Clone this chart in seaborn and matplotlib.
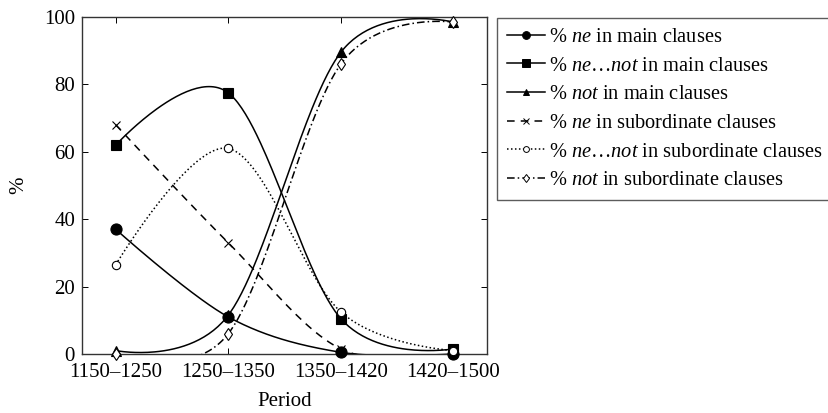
import numpy as np
import pandas as pd
import matplotlib
matplotlib.use("Agg")
import matplotlib.pyplot as plt
import seaborn as sns
from matplotlib.lines import Line2D

# --- Data ---
periods = ["1150\u20131250", "1250\u20131350", "1350\u20131420", "1420\u20131500"]
ne_main = [37, 11, 0.5, 0]
nenot_main = [62, 77.5, 10.5, 1.5]
not_main = [1, 11.5, 89.5, 98.5]
ne_sub = [68, 33, 1.5, 0]
nenot_sub = [26.5, 61, 12.5, 1]
not_sub = [0, 6, 86, 98.5]

labels = [
    r"% $\mathit{ne}$ in main clauses",
    "% $\\mathit{ne\u2026not}$ in main clauses",
    r"% $\mathit{not}$ in main clauses",
    r"% $\mathit{ne}$ in subordinate clauses",
    "% $\\mathit{ne\u2026not}$ in subordinate clauses",
    r"% $\mathit{not}$ in subordinate clauses",
]


def smooth(xs, ys, n=60):
    # tikz-like smooth: cubic bezier pieces, tangents from neighbours
    p = np.column_stack([xs, ys]).astype(float)
    out = []
    for i in range(len(p) - 1):
        p0, p1 = p[i], p[i + 1]
        c1 = p0 if i == 0 else p0 + (p1 - p[i - 1]) / 6
        c2 = p1 if i == len(p) - 2 else p1 - (p[i + 2] - p0) / 6
        t = np.linspace(0, 1, n)[:, None]
        b = ((1 - t) ** 3) * p0 + 3 * ((1 - t) ** 2) * t * c1 + 3 * (1 - t) * t ** 2 * c2 + t ** 3 * p1
        out.append(b if i == 0 else b[1:])
    b = np.vstack(out)
    return b[:, 0], b[:, 1]


plt.rcParams["font.family"] = ["Liberation Serif", "DejaVu Serif"]
plt.rcParams["mathtext.fontset"] = "custom"
plt.rcParams["mathtext.it"] = "Liberation Serif:italic"
plt.rcParams["mathtext.rm"] = "Liberation Serif"
plt.rcParams["font.size"] = 15

fig = plt.figure(figsize=(8.29, 4.13), dpi=100)
ax = fig.add_axes([0.0989, 0.1429, 0.4886, 0.8159])

series = [ne_main, nenot_main, not_main, ne_sub, nenot_sub, not_sub]
styles = [
    dict(ls="-", marker="o", ms=8, mfc="black"),
    dict(ls="-", marker="s", ms=7.5, mfc="black"),
    dict(ls="-", marker="^", ms=7, mfc="black"),
    dict(ls=(0, (5, 4)), marker="x", ms=5.5, mfc="black"),
    dict(ls=(0, (1, 1.6)), marker="o", ms=6, mfc="white"),
    dict(ls=(0, (5, 2, 1, 2)), marker="d", ms=6.5, mfc="white"),
]

xi = np.arange(len(periods))
handles = []
for vals, st, lab in zip(series, styles, labels):
    sx, sy = smooth(xi, vals)
    sns.lineplot(x=sx, y=sy, sort=False, ax=ax, color="black", lw=1.1,
                 linestyle=st["ls"], estimator=None)
    ax.plot(xi, vals, ls="none", marker=st["marker"], ms=st["ms"],
            mfc=st["mfc"], mec="black", mew=0.8, color="black", clip_on=False, zorder=3)
    handles.append(Line2D([], [], color="black", lw=1.1, linestyle=st["ls"],
                          marker=st["marker"], ms=st["ms"] * 0.7, mfc=st["mfc"],
                          mec="black", mew=0.7, label=lab))

ax.set_xlim(-0.3, 3.3)
ax.set_ylim(0, 100)
ax.set_xticks(xi)
ax.set_xticklabels(periods)
ax.set_yticks([0, 20, 40, 60, 80, 100])
ax.tick_params(direction="in", top=True, right=True, length=4.5, width=0.7,
               colors="black", labelsize=15)
ax.tick_params(axis="x", pad=6.5)
ax.tick_params(axis="y", pad=5)
for s in ax.spines.values():
    s.set_color("#333333")
    s.set_linewidth(1.0)
ax.set_xlabel("Period", fontsize=15, labelpad=7)
ax.set_ylabel("%", fontsize=15, labelpad=11)

leg = fig.legend(handles=handles, loc="upper left", bbox_to_anchor=(0.6, 0.956),
                 frameon=True, fancybox=False, edgecolor="#333333", fontsize=14.7,
                 handlelength=1.85, handletextpad=0.2, labelspacing=0.46,
                 borderpad=0.46, borderaxespad=0)
leg.get_frame().set_linewidth(1.0)

fig.savefig("out.png", dpi=100)
